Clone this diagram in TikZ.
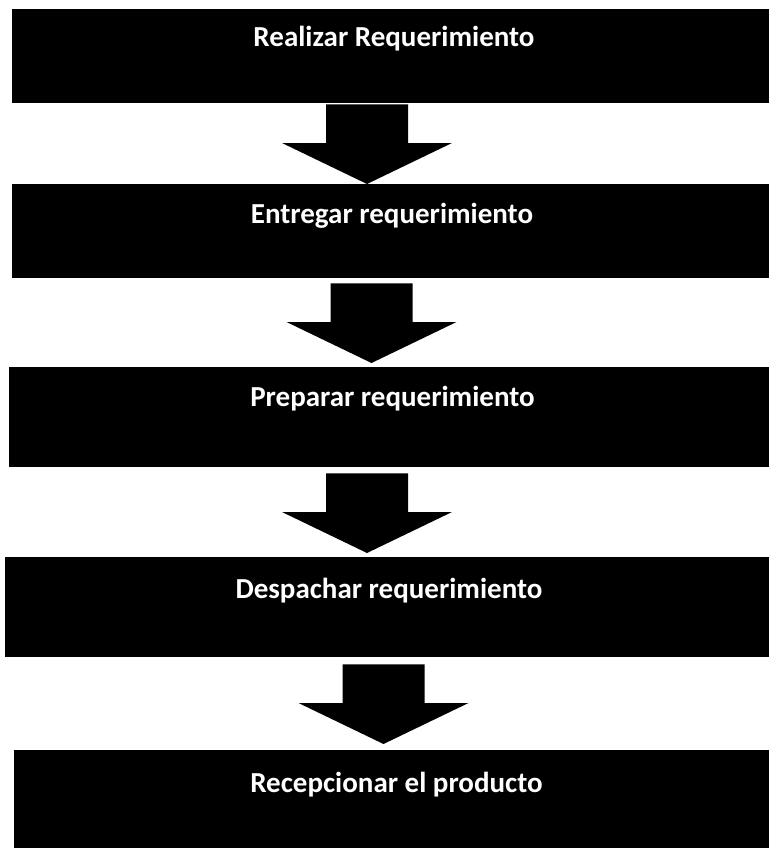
\documentclass[tikz,border=0pt]{standalone}
\usepackage{fontspec}
\setmainfont{Carlito}
\usetikzlibrary{calc}

\begin{document}
\begin{tikzpicture}[
  x=1pt, y=-1pt,
  caja/.style={rectangle, fill=black, inner sep=0pt, anchor=north west},
  lbl/.style={text=white, inner sep=0pt, anchor=base, font=\bfseries\fontsize{29}{33}\selectfont},
  flecha/.style={fill=black, to path={
      ($(\tikztostart)+(-41,0)$) -- ($(\tikztostart)+(41,0)$)
      -- ($(\tikztotarget)+(41,-41)$) -- ($(\tikztotarget)+(85,-41)$)
      -- (\tikztotarget) -- ($(\tikztotarget)+(-85,-41)$)
      -- ($(\tikztotarget)+(-41,-41)$) -- cycle}}
  ]
\useasboundingbox (0,0) rectangle (769,848);

% boxes
\node [caja, minimum width=757pt, minimum height=94pt] (b1) at (12,9) {};
\node [caja, minimum width=757pt, minimum height=94pt] (b2) at (12,184) {};
\node [caja, minimum width=760pt, minimum height=100pt] (b3) at (9,367) {};
\node [caja, minimum width=764pt, minimum height=100pt] (b4) at (5,557) {};
\node [caja, minimum width=755pt, minimum height=98pt] (b5) at (14,750) {};

% texts
\node [lbl] (t1) at (394,47) {Realizar Requerimiento};
\node [lbl] (t2) at (392,223) {Entregar requerimiento};
\node [lbl] (t3) at (392.5,406.5) {Preparar requerimiento};
\node [lbl] (t4) at (389,598) {Despachar requerimiento};
\node [lbl] (t5) at (396.5,792) {Recepcionar el producto};

% arrows
\path [flecha] ($(b1.south -| 367,0)+(0,1)$) to ($(b2.north -| 367,0)$);
\path [flecha] ($(b2.south -| 371.5,0)+(0,5)$) to ($(b3.north -| 371.5,0)+(0,-4)$);
\path [flecha] ($(b3.south -| 367,0)+(0,6)$) to ($(b4.north -| 367,0)+(0,-4)$);
\path [flecha] ($(b4.south -| 383.5,0)+(0,7)$) to ($(b5.north -| 383.5,0)+(0,-6)$);

\end{tikzpicture}
\end{document}
